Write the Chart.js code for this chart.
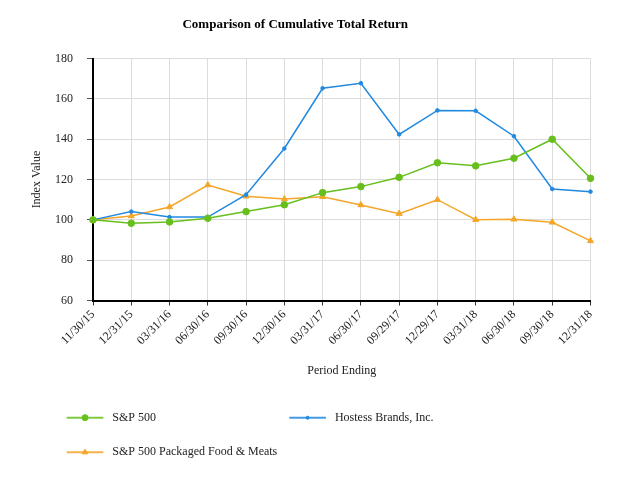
<!DOCTYPE html>
<html><head><meta charset="utf-8">
<script src="https://cdn.jsdelivr.net/npm/chart.js@4/dist/chart.umd.min.js"></script>
<style>html,body{margin:0;padding:0;background:#fff}canvas{display:block}</style>
</head><body>
<canvas id="c" width="624" height="488"></canvas>
<script>
const chartTitle = 'Comparison of Cumulative Total Return';
const xAxisTitle = 'Period Ending';
const yAxisTitle = 'Index Value';
const periods = ['11/30/15','12/31/15','03/31/16','06/30/16','09/30/16','12/30/16','03/31/17','06/30/17','09/29/17','12/29/17','03/31/18','06/30/18','09/30/18','12/31/18'];
const seriesNames = ['S&P 500', 'Hostess Brands, Inc.', 'S&P 500 Packaged Food & Meats'];
const sp500 = [100, 98.3, 99.0, 100.8, 104.1, 107.5, 113.5, 116.5, 121.1, 128.3, 126.8, 130.6, 140.0, 120.6];
const hostess = [100, 104.1, 101.4, 101.4, 112.5, 135.4, 165.3, 167.8, 142.4, 154.3, 154.1, 141.5, 115.3, 114.0];
const packagedFood = [100, 101.9, 106.4, 117.3, 111.7, 110.3, 111.5, 107.4, 103.1, 110.0, 100.1, 100.3, 98.8, 89.6];
const yTicks = [60, 80, 100, 120, 140, 160, 180];

Chart.defaults.font.family = "'Liberation Serif', 'Times New Roman', serif";
Chart.defaults.font.size = 12;
Chart.defaults.color = '#222';

function drawMarker(ctx, style, r, x, y, color) {
  ctx.save();
  ctx.fillStyle = color; ctx.strokeStyle = color; ctx.lineWidth = 1;
  ctx.beginPath();
  if (style === 'triangle') {
    ctx.moveTo(x, y - r);
    ctx.lineTo(x + r * 0.866 * 1.15, y + r * 0.5);
    ctx.lineTo(x - r * 0.866 * 1.15, y + r * 0.5);
    ctx.closePath();
  } else {
    ctx.arc(x, y, r, 0, Math.PI * 2);
  }
  ctx.fill(); ctx.stroke();
  ctx.restore();
}

const gridLegend = {
  id: 'gridLegend',
  afterDraw(chart, args, opts) {
    const ctx = chart.ctx;
    chart.data.datasets.forEach((ds, i) => {
      const p = opts.positions[i];
      if (!p) return;
      ctx.save();
      ctx.strokeStyle = ds.borderColor;
      ctx.globalAlpha = 0.85;
      ctx.lineWidth = 2;
      ctx.beginPath();
      ctx.moveTo(p.x, p.y);
      ctx.lineTo(p.x + opts.lineLength, p.y);
      ctx.stroke();
      ctx.restore();
      drawMarker(ctx, ds.pointStyle, ds.legendMarker, p.x + opts.lineLength / 2, p.y, ds.borderColor);
      ctx.save();
      ctx.fillStyle = '#222';
      ctx.font = "12px 'Liberation Serif', serif";
      ctx.textBaseline = 'middle';
      ctx.textAlign = 'left';
      ctx.fillText(ds.label, p.x + opts.textGap, p.y);
      ctx.restore();
    });
  }
};

new Chart(document.getElementById('c'), {
  type: 'line',
  data: {
    labels: periods,
    datasets: [
      { label: seriesNames[0], data: sp500, borderColor: '#66bf1d', backgroundColor: '#66bf1d', pointStyle: 'circle', pointRadius: 3.3, pointBorderWidth: 1, borderWidth: 1.5, legendMarker: 3, tension: 0 },
      { label: seriesNames[1], data: hostess, borderColor: '#2189e0', backgroundColor: '#2189e0', pointStyle: 'circle', pointRadius: 1.8, pointBorderWidth: 1, borderWidth: 1.5, legendMarker: 1.5, tension: 0 },
      { label: seriesNames[2], data: packagedFood, borderColor: '#f4a62a', backgroundColor: '#f4a62a', pointStyle: 'triangle', pointRadius: 3.5, pointBorderWidth: 1, borderWidth: 1.5, legendMarker: 3, tension: 0 }
    ]
  },
  options: {
    responsive: false,
    devicePixelRatio: 1,
    animation: false,
    layout: { padding: { left: 0, right: 33.5, top: 0, bottom: 107.5 } },
    plugins: {
      legend: { display: false },
      tooltip: { enabled: false },
      title: { display: true, text: chartTitle, color: '#000', font: { size: 13, weight: 'bold' }, padding: { top: 17, bottom: 26 } },
      gridLegend: {
        lineLength: 36.6,
        textGap: 45.6,
        positions: [ { x: 66.7, y: 417.7 }, { x: 289.3, y: 417.7 }, { x: 66.7, y: 452.3 } ]
      }
    },
    scales: {
      x: {
        offset: false,
        grid: { color: '#dcdcdc', lineWidth: 1, tickLength: 5, tickColor: '#333' },
        border: { display: true, color: '#000', width: 2 },
        ticks: { autoSkip: false, maxRotation: 45, minRotation: 45, padding: 2, color: '#222', font: { size: 12 } },
        title: { display: true, text: xAxisTitle, color: '#222', font: { size: 12 }, padding: { top: 4, bottom: 2 } },
        afterFit(scale) { scale.height = 80; }
      },
      y: {
        min: 60, max: 180,
        afterBuildTicks(scale) { scale.ticks = yTicks.map(v => ({ value: v })); },
        grid: { color: '#dcdcdc', lineWidth: 1, tickLength: 6, tickColor: '#555' },
        border: { display: true, color: '#000', width: 2 },
        ticks: { padding: 14, color: '#222', font: { size: 12 } },
        title: { display: true, text: yAxisTitle, color: '#222', font: { size: 12 }, padding: { top: 30, bottom: 0 } },
        afterFit(scale) { scale.width = 93; }
      }
    }
  },
  plugins: [gridLegend]
});
</script>
</body></html>
